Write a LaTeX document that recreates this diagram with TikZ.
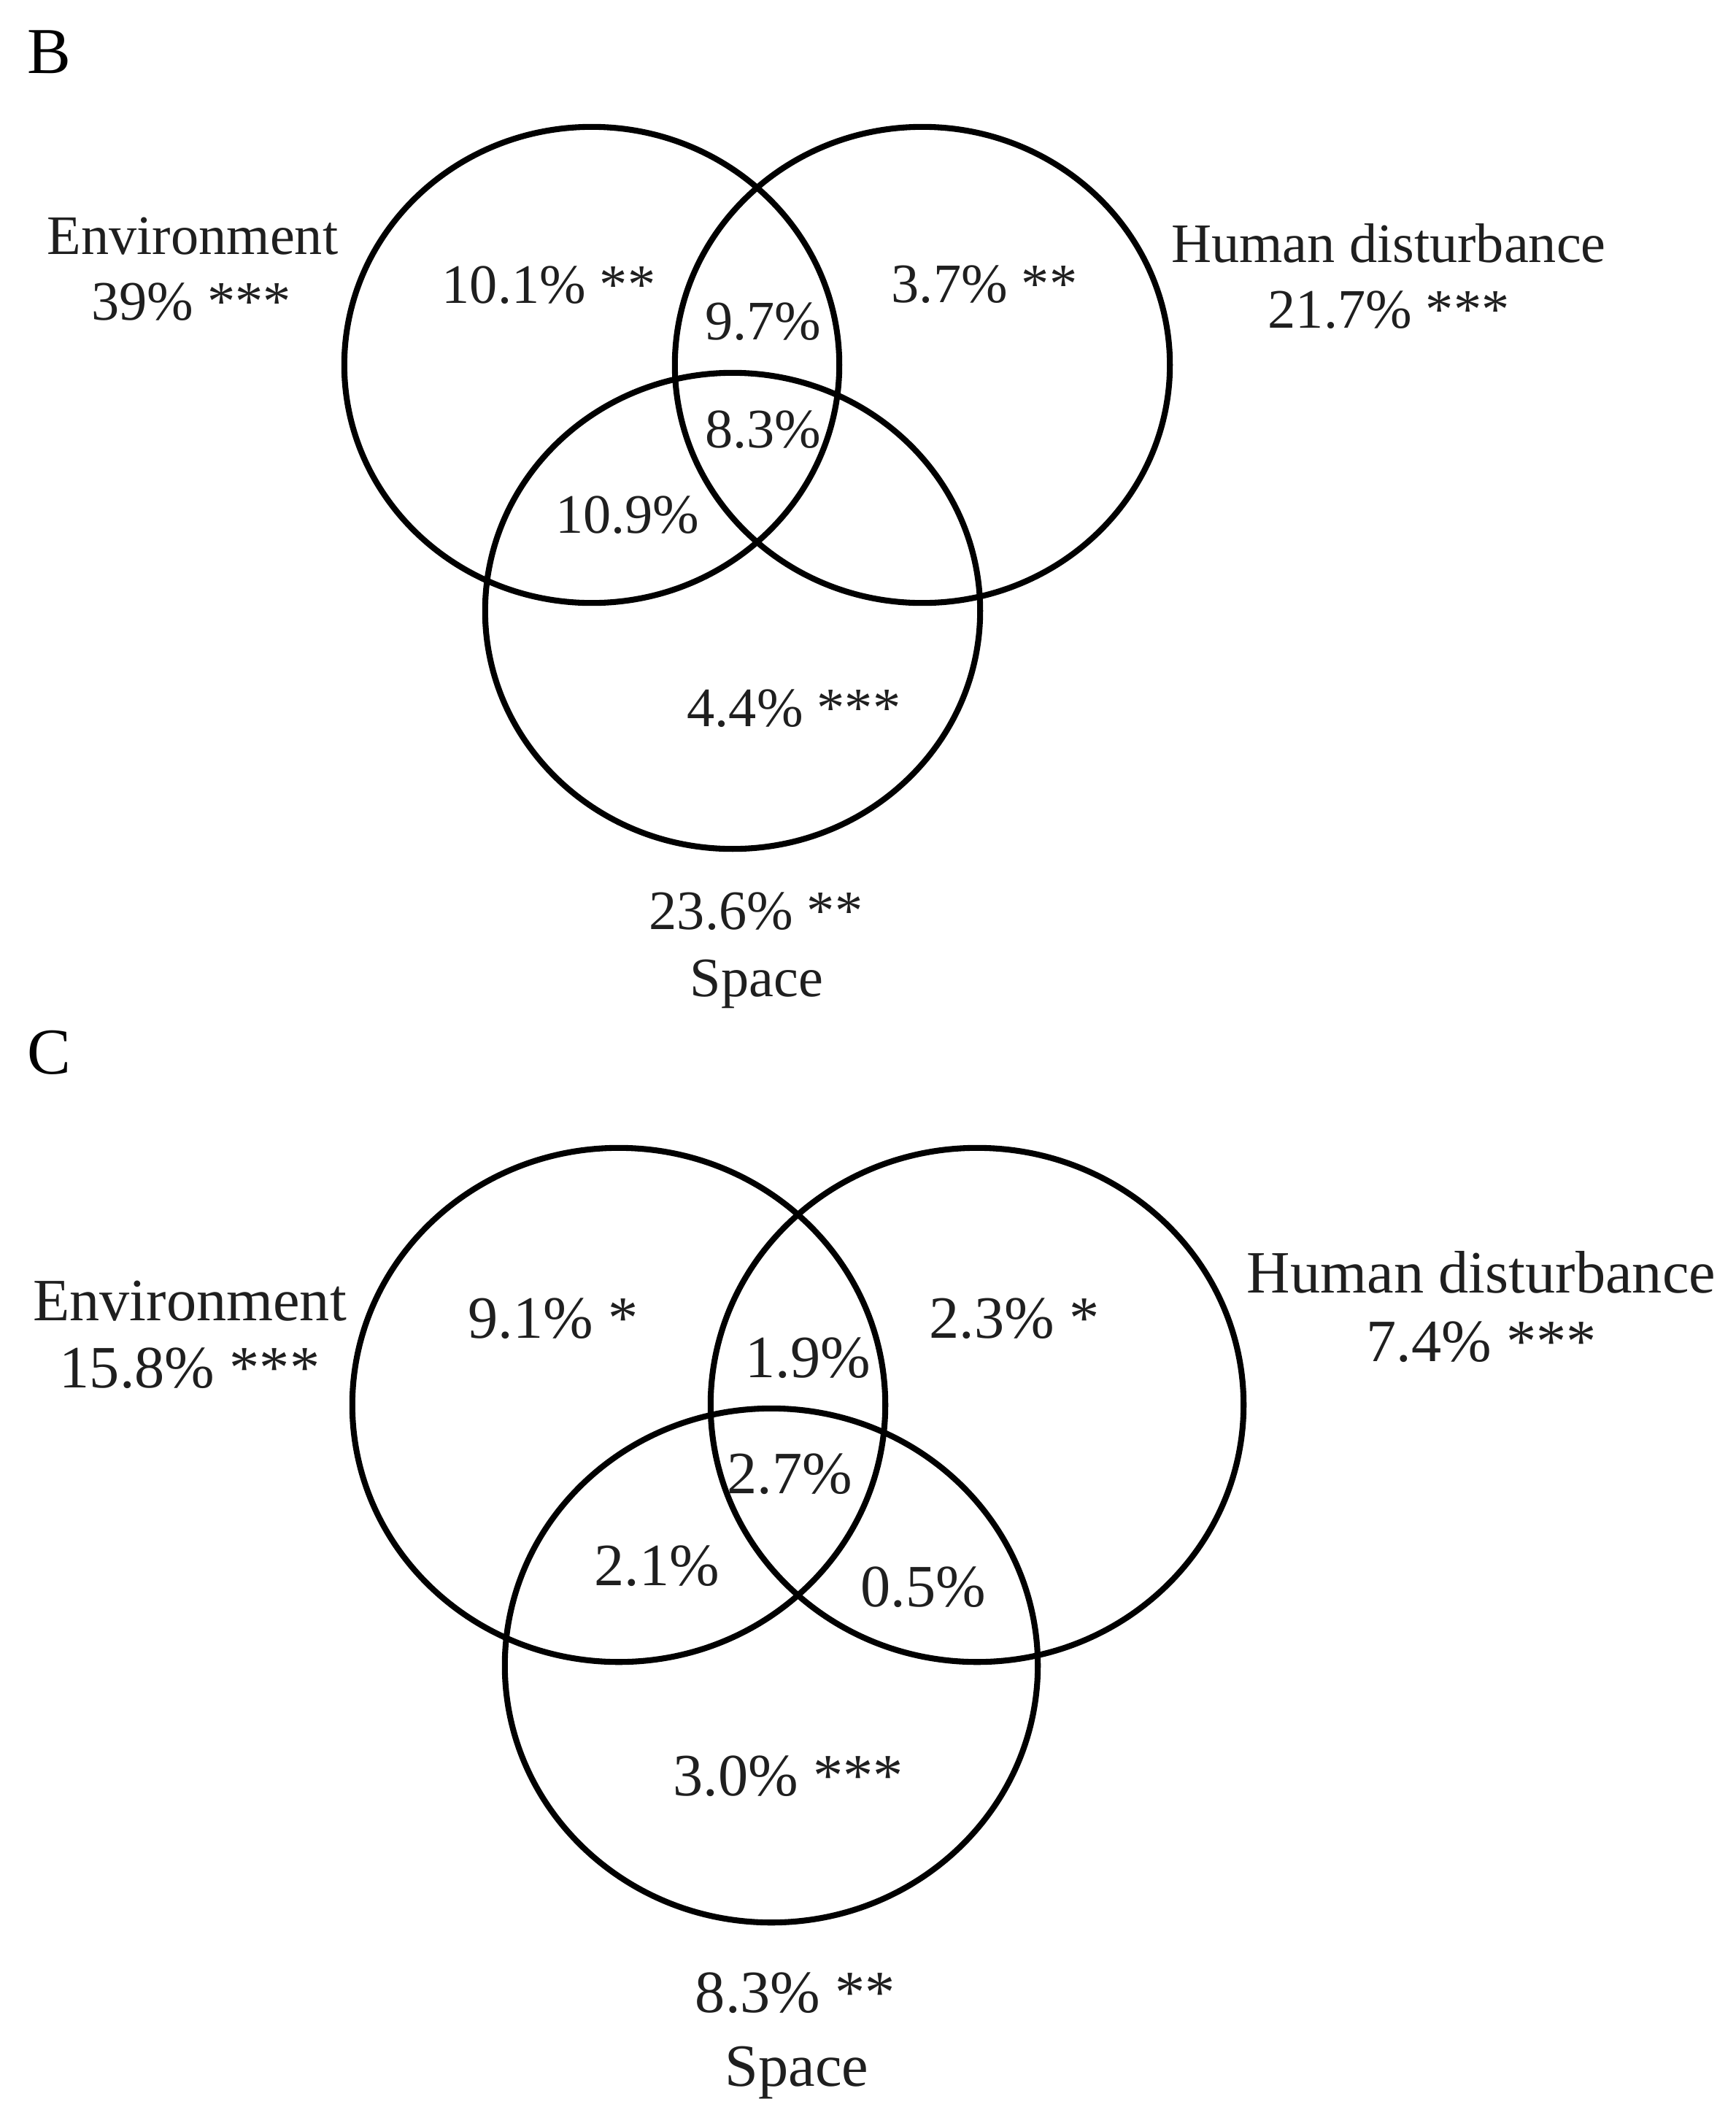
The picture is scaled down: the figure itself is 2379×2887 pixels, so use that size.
\documentclass[tikz,border=0pt]{standalone}
\usepackage{fontspec}
\setmainfont{Liberation Serif}
\begin{document}
\begin{tikzpicture}[x=0.01cm,y=-0.01cm,
  venn/.style={line width=2.3pt},
  lblB/.style={anchor=base,inner sep=0pt,text=black!88,font=\fontsize{21.7}{26}\selectfont},
  lblC/.style={anchor=base,inner sep=0pt,text=black!88,font=\fontsize{23.4}{28}\selectfont},
  panel/.style={anchor=base west,inner sep=0pt,font=\fontsize{25.5}{30}\selectfont}]
\useasboundingbox (0,0) rectangle (2379,2887);
% ---------------- Panel B ----------------
\node[panel] (labB) at (37,100) {B};
\draw[venn] (811,500) ellipse [x radius=3.39cm, y radius=3.26cm];
\draw[venn] (1264,500) ellipse [x radius=3.39cm, y radius=3.26cm];
\draw[venn] (1004,837) ellipse [x radius=3.39cm, y radius=3.26cm];
\node[lblB] (envB) at (264,348) {Environment};
\node[lblB] (envBv) at (262,438) {39\% ***};
\node[lblB] (humB) at (1903,359) {Human disturbance};
\node[lblB] (humBv) at (1903,449) {21.7\% ***};
\node[lblB] (spaBv) at (1036,1273) {23.6\% **};
\node[lblB] (spaB) at (1037,1365) {Space};
\node[lblB] (eB) at (752,415) {10.1\% **};
\node[lblB] (ehB) at (1046,465) {9.7\%};
\node[lblB] (hB) at (1349,414) {3.7\% **};
\node[lblB] (ehsB) at (1046,613) {8.3\%};
\node[lblB] (esB) at (860,730) {10.9\%};
\node[lblB] (sB) at (1088,995) {4.4\% ***};
% ---------------- Panel C ----------------
\node[panel] (labC) at (37,1471) {C};
\draw[venn] (848,1925) ellipse [x radius=3.65cm, y radius=3.52cm];
\draw[venn] (1339,1925) ellipse [x radius=3.65cm, y radius=3.52cm];
\draw[venn] (1057,2282) ellipse [x radius=3.65cm, y radius=3.52cm];
\node[lblC] (envC) at (260,1809) {Environment};
\node[lblC] (envCv) at (260,1901) {15.8\% ***};
\node[lblC] (humC) at (2030,1771) {Human disturbance};
\node[lblC] (humCv) at (2030,1865) {7.4\% ***};
\node[lblC] (spaCv) at (1090,2757) {8.3\% **};
\node[lblC] (spaC) at (1092,2858) {Space};
\node[lblC] (eC) at (758,1833) {9.1\% *};
\node[lblC] (ehC) at (1107,1887) {1.9\%};
\node[lblC] (hC) at (1390,1833) {2.3\% *};
\node[lblC] (ehsC) at (1082,2046) {2.7\%};
\node[lblC] (esC) at (900,2172) {2.1\%};
\node[lblC] (hsC) at (1265,2201) {0.5\%};
\node[lblC] (sC) at (1080,2460) {3.0\% ***};
\end{tikzpicture}
\end{document}
